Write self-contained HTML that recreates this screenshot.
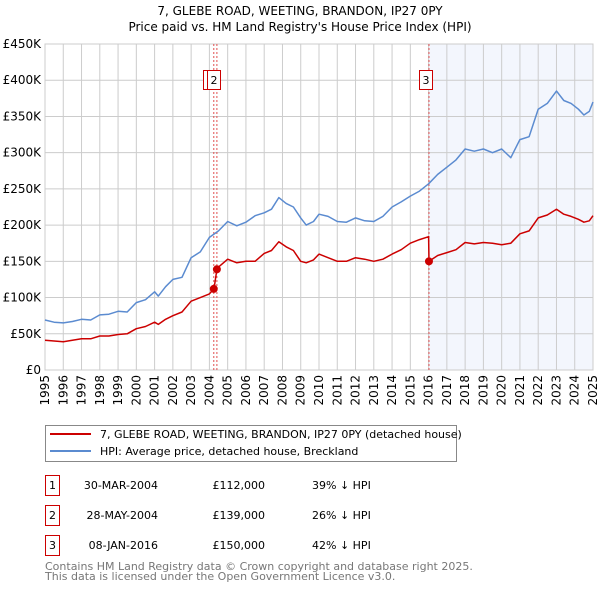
<!DOCTYPE html>
<html><head><meta charset="utf-8">
<style>
body{margin:0;background:#fff;font-family:"Liberation Sans","DejaVu Sans",sans-serif;}
#wrap{position:relative;width:600px;height:590px;overflow:hidden;}
svg text{font-family:"DejaVu Sans","Liberation Sans",sans-serif;}
</style></head><body>
<div id="wrap">
<svg id="chart" width="600" height="590"></svg>
</div>
<script>
const hpiYears=[1995,1995.5,1996,1996.5,1997,1997.5,1998,1998.5,1999,1999.5,2000,2000.5,2001,2001.2,2001.6,2002,2002.5,2003,2003.5,2004,2004.5,2005,2005.5,2006,2006.5,2007,2007.4,2007.8,2008.2,2008.6,2009,2009.3,2009.7,2010,2010.5,2011,2011.5,2012,2012.5,2013,2013.5,2014,2014.5,2015,2015.5,2016,2016.5,2017,2017.5,2018,2018.5,2019,2019.5,2020,2020.5,2021,2021.5,2022,2022.5,2023,2023.4,2023.8,2024.2,2024.5,2024.8,2025];
const hpiVals=[69,66,65,67,70,69,76,77,81,80,93,97,108,102,115,125,128,155,163,183,192,205,199,204,213,217,222,238,230,225,210,200,205,215,212,205,204,210,206,205,212,225,232,240,247,257,270,280,290,305,302,305,300,305,293,318,322,360,368,385,372,368,360,352,357,370];
const ppYears=[1995,1995.5,1996,1996.5,1997,1997.5,1998,1998.5,1999,1999.5,2000,2000.5,2001,2001.2,2001.6,2002,2002.5,2003,2003.5,2004,2004.24,2004.25,2004.41,2004.5,2005,2005.5,2006,2006.5,2007,2007.4,2007.8,2008.2,2008.6,2009,2009.3,2009.7,2010,2010.5,2011,2011.5,2012,2012.5,2013,2013.5,2014,2014.5,2015,2015.5,2016,2016.02,2016.5,2017,2017.5,2018,2018.5,2019,2019.5,2020,2020.5,2021,2021.5,2022,2022.5,2023,2023.4,2023.8,2024.2,2024.5,2024.8,2025];
const ppVals=[41,40,39,41,43,43,47,47,49,50,57,60,66,63,70,75,80,95,100,105,112,112,139,142,153,148,150,150,161,165,177,170,165,150,148,152,160,155,150,150,155,153,150,153,160,166,175,180,184,150,158,162,166,176,174,176,175,173,175,188,192,210,214,222,215,212,208,204,206,213];
const saleYears=[2004.24,2004.41,2016.02];
const saleVals=[112,139,150];
const saleLabels=["1","2","3"];
const yTicks=[0,50,100,150,200,250,300,350,400,450];
const yTickLabels=["£0","£50K","£100K","£150K","£200K","£250K","£300K","£350K","£400K","£450K"];
const xTicks=[1995,1996,1997,1998,1999,2000,2001,2002,2003,2004,2005,2006,2007,2008,2009,2010,2011,2012,2013,2014,2015,2016,2017,2018,2019,2020,2021,2022,2023,2024,2025];

const NS="http://www.w3.org/2000/svg";
const svg=document.getElementById('chart');
const L=45,R=593,T=44,B=370;
const xs=v=>L+(v-1995)/30*(R-L);
const ys=v=>B-v/450*(B-T);
function el(tag,attrs,parent){const e=document.createElementNS(NS,tag);for(const k in attrs)e.setAttribute(k,attrs[k]);(parent||svg).appendChild(e);return e;}
function txt(s,attrs){const e=el('text',attrs);e.textContent=s;return e;}

let t=txt("7, GLEBE ROAD, WEETING, BRANDON, IP27 0PY",{x:300,y:15,'text-anchor':'middle','font-size':12});


t=txt("Price paid vs. HM Land Registry's House Price Index (HPI)",{x:300,y:31,'text-anchor':'middle','font-size':12});



let sh=el('rect',{x:xs(2016.02),y:T,width:R-xs(2016.02),height:B-T,fill:'#f3f6fd'});



yTicks.forEach((v,i)=>{
  const g=el('line',{x1:L,x2:R,y1:ys(v),y2:ys(v),stroke:'#cccccc','stroke-width':1});
  
  
  const l=txt(yTickLabels[i],{x:L-4,y:ys(v)+4,'text-anchor':'end','font-size':12});
  
  
});
xTicks.forEach(v=>{
  const g=el('line',{x1:xs(v),x2:xs(v),y1:T,y2:B,stroke:'#cccccc','stroke-width':1});
  
  
  const l=txt(String(v),{x:0,y:0,'text-anchor':'end','font-size':12,transform:`translate(${xs(v)+4},${B+5}) rotate(-90)`});
  
  
});
let fr=el('rect',{x:L,y:T,width:R-L,height:B-T,fill:'none',stroke:'#cccccc'});



saleYears.forEach((y,i)=>{
  const v=el('line',{x1:xs(y),x2:xs(y),y1:T,y2:B,stroke:'#e05050','stroke-width':1,'stroke-dasharray':'2,2'});
  
  
});

function path(xa,va,color,name){
  const d=xa.map((x,i)=>(i?'L':'M')+xs(x).toFixed(1)+','+ys(va[i]).toFixed(1)).join('');
  const p=el('path',{d:d,fill:'none',stroke:color,'stroke-width':1.5,'stroke-linejoin':'round'});
  
  
}
path(hpiYears,hpiVals,'#5b8bd0','hpi-line');
path(ppYears,ppVals,'#cc0000','price-paid-line');

saleYears.forEach((y,i)=>{
  const c=el('circle',{cx:xs(y),cy:ys(saleVals[i]),r:4,fill:'#cc0000'});
  
  
});
// label boxes: box1 partially hidden behind box2
[[203.5,'1'],[207.5,'2'],[419.5,'3']].forEach(([bx,s])=>{
  const r=el('rect',{x:bx,y:70.5,width:13,height:19,fill:'#fff',stroke:'#cc0000'});
  
  
  const l=txt(s,{x:bx+6.5,y:84,'text-anchor':'middle','font-size':11});
  
  
});

// legend
let lg=el('rect',{x:45.5,y:425.5,width:411,height:36,fill:'#fff',stroke:'#888'});


el('line',{x1:50,x2:91,y1:434,y2:434,stroke:'#cc0000','stroke-width':2});
t=txt("7, GLEBE ROAD, WEETING, BRANDON, IP27 0PY (detached house)",{x:100,y:438,'font-size':11});


el('line',{x1:50,x2:91,y1:451,y2:451,stroke:'#5b8bd0','stroke-width':2});
t=txt("HPI: Average price, detached house, Breckland",{x:100,y:455,'font-size':11});



const rows=[["1","30-MAR-2004","£112,000","39% ↓ HPI"],["2","28-MAY-2004","£139,000","26% ↓ HPI"],["3","08-JAN-2016","£150,000","42% ↓ HPI"]];
rows.forEach((r,i)=>{
  const y=475+i*30;
  const b=el('rect',{x:45.5,y:y+0.5,width:14,height:20,fill:'#fff',stroke:'#cc0000'});
  
  
  let a=txt(r[0],{x:52.5,y:y+14,'text-anchor':'middle','font-size':11});
  
  
  a=txt(r[1],{x:158,y:y+14,'text-anchor':'end','font-size':11});
  
  
  a=txt(r[2],{x:265,y:y+14,'text-anchor':'end','font-size':11});
  
  
  a=txt(r[3],{x:312,y:y+14,'font-size':11});
  
  
});
t=txt("Contains HM Land Registry data © Crown copyright and database right 2025.",{x:45,y:570,'font-size':11,fill:'#777'});


t=txt("This data is licensed under the Open Government Licence v3.0.",{x:45,y:580,'font-size':11,fill:'#777'});


</script>
</body></html>
